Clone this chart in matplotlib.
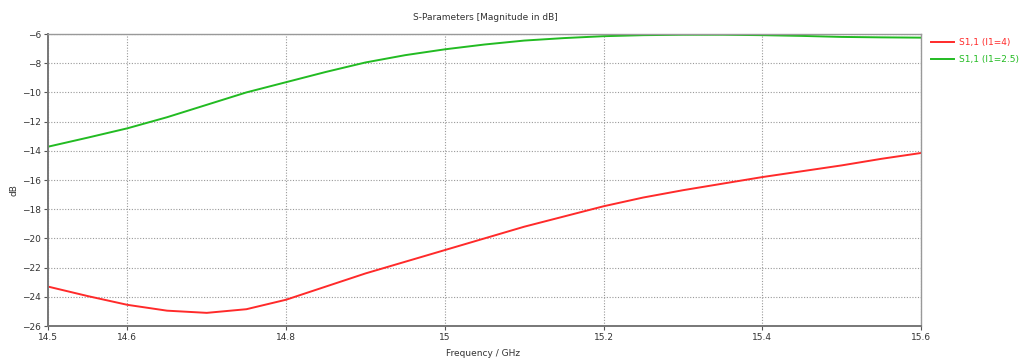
import matplotlib
matplotlib.use("Agg")
import matplotlib.pyplot as plt

# values
freq = [14.5, 14.55, 14.6, 14.65, 14.7, 14.75, 14.8, 14.85, 14.9, 14.95, 15.0, 15.05,
        15.1, 15.15, 15.2, 15.25, 15.3, 15.35, 15.4, 15.45, 15.5, 15.55, 15.6]
s11_l4 = [-23.3, -23.95, -24.55, -24.95, -25.1, -24.85, -24.2, -23.3, -22.4, -21.6, -20.8, -20.0,
          -19.2, -18.5, -17.8, -17.2, -16.7, -16.25, -15.8, -15.4, -15.0, -14.55, -14.15]
s11_l25 = [-13.72, -13.1, -12.46, -11.7, -10.85, -10.0, -9.3, -8.6, -7.95, -7.45, -7.05, -6.72,
           -6.45, -6.28, -6.15, -6.08, -6.05, -6.05, -6.08, -6.13, -6.2, -6.23, -6.25]
labels = ["S1,1 (l1=4)", "S1,1 (l1=2.5)"]
colors = ["#ff2a2a", "#22bb22"]
xticks = [14.5, 14.6, 14.8, 15.0, 15.2, 15.4, 15.6]
xticklabels = ["14.5", "14.6", "14.8", "15", "15.2", "15.4", "15.6"]
yticks = list(range(-26, -5, 2))

plt.rcParams["font.family"] = ["DejaVu Sans"]
fig = plt.figure(figsize=(10.19, 3.6), dpi=100)
ax = fig.add_axes([48 / 1019, 1 - 326 / 360, (921 - 48) / 1019, (326 - 34) / 360])

lines = []
for data, lab, c in zip([s11_l4, s11_l25], labels, colors):
    ln, = ax.plot(freq, data, color=c, lw=1.4, label=lab)
    lines.append(ln)

ax.set_xlim(14.5, 15.6)
ax.set_ylim(-26, -6)
ax.set_xticks(xticks)
ax.set_xticklabels(xticklabels)
ax.set_yticks(yticks)
ax.tick_params(labelsize=6.5, length=3, width=0.8, color="#555555", labelcolor="#333333", pad=2)
ax.grid(True, linestyle=(0, (1, 1.5)), color="#999999", lw=0.8)

for side in ["left", "bottom"]:
    ax.spines[side].set_color("#777777")
    ax.spines[side].set_linewidth(1.4)
for side in ["top", "right"]:
    ax.spines[side].set_color("#999999")
    ax.spines[side].set_linewidth(1.0)

fig.text(485 / 1019, 1 - 17 / 360, "S-Parameters [Magnitude in dB]", ha="center", va="center",
         fontsize=6.5, color="#333333")
fig.text(483 / 1019, 1 - 353 / 360, "Frequency / GHz", ha="center", va="center",
         fontsize=6.5, color="#333333")
fig.text(14 / 1019, 1 - 190 / 360, "dB", ha="center", va="center", rotation=90,
         fontsize=6.5, color="#333333")

leg = fig.legend(handles=lines, loc="upper left", bbox_to_anchor=(931 / 1019, 1 - 38 / 360),
                 frameon=False, fontsize=6.5, handlelength=2.6, handletextpad=0.5,
                 labelspacing=0.85, borderaxespad=0, borderpad=0)
for txt, c in zip(leg.get_texts(), colors):
    txt.set_color(c)

fig.savefig("out.png", dpi=100)
